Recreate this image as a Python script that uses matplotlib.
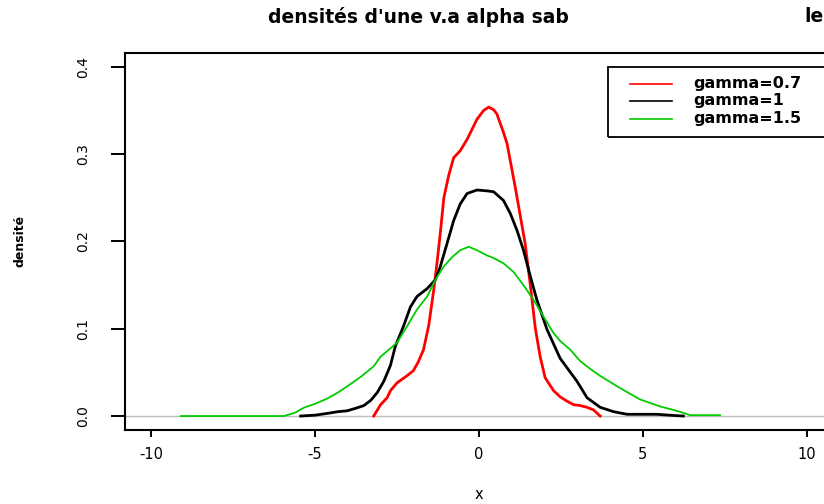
import matplotlib
matplotlib.use('Agg')
import matplotlib.pyplot as plt
from matplotlib.patches import Rectangle

plt.rcParams['axes.unicode_minus'] = False
plt.rcParams['font.family'] = ['DejaVu Sans']

# densities
x_g07 = [-3.21, -3.0, -2.8, -2.7, -2.5, -2.2, -2.0, -1.85, -1.69, -1.53, -1.38,
         -1.28, -1.18, -1.07, -0.92, -0.77, -0.57, -0.36, -0.06, 0.14, 0.30, 0.45,
         0.55, 0.75, 0.86, 0.96, 1.11, 1.26, 1.41, 1.57, 1.72, 1.87, 2.02, 2.28,
         2.48, 2.69, 2.89, 3.09, 3.3, 3.5, 3.70]
y_g07 = [0.0, 0.013, 0.021, 0.029, 0.038, 0.046, 0.052, 0.062, 0.076, 0.104, 0.144,
         0.175, 0.209, 0.250, 0.276, 0.296, 0.304, 0.317, 0.340, 0.350, 0.354, 0.351,
         0.346, 0.325, 0.312, 0.292, 0.262, 0.230, 0.198, 0.150, 0.101, 0.068, 0.044,
         0.029, 0.022, 0.017, 0.013, 0.012, 0.010, 0.007, 0.0]

x_g1 = [-5.44, -5.0, -4.63, -4.3, -4.02, -3.75, -3.51, -3.3, -3.1, -2.9, -2.7,
        -2.55, -2.3, -2.09, -1.89, -1.58, -1.33, -1.18, -0.97, -0.77, -0.57, -0.36,
        -0.06, 0.25, 0.45, 0.75, 0.96, 1.16, 1.36, 1.57, 1.77, 2.08, 2.48, 2.99,
        3.3, 3.7, 4.11, 4.52, 5.0, 5.43, 5.8, 6.24]
y_g1 = [0.0, 0.001, 0.003, 0.005, 0.006, 0.009, 0.012, 0.018, 0.027, 0.040, 0.058,
        0.080, 0.103, 0.125, 0.137, 0.146, 0.156, 0.171, 0.198, 0.224, 0.243, 0.255,
        0.259, 0.258, 0.257, 0.247, 0.232, 0.213, 0.190, 0.160, 0.133, 0.099, 0.066,
        0.040, 0.021, 0.010, 0.005, 0.002, 0.002, 0.002, 0.001, 0.0]

x_g15 = [-9.1, -7.0, -5.95, -5.6, -5.34, -5.0, -4.63, -4.3, -4.02, -3.6, -3.21,
         -3.0, -2.5, -2.19, -1.89, -1.58, -1.33, -1.08, -0.82, -0.57, -0.31, -0.06,
         0.25, 0.45, 0.75, 1.06, 1.36, 1.67, 1.97, 2.28, 2.48, 2.79, 3.09, 3.4, 3.7,
         4.31, 4.92, 5.53, 6.04, 6.45, 7.36]
y_g15 = [0.0, 0.0, 0.0, 0.004, 0.0096, 0.014, 0.020, 0.027, 0.034, 0.045, 0.057,
         0.068, 0.084, 0.103, 0.122, 0.137, 0.156, 0.171, 0.182, 0.190, 0.194, 0.190,
         0.184, 0.181, 0.175, 0.165, 0.150, 0.133, 0.114, 0.095, 0.086, 0.076, 0.063,
         0.054, 0.046, 0.032, 0.019, 0.011, 0.006, 0.001, 0.001]

labels = ['gamma=0.7', 'gamma=1', 'gamma=1.5']
colors = ['#ff0000', '#000000', '#00cc00']
widths = [2.0, 2.0, 1.3]
xticks = [-10, -5, 0, 5, 10]
yticks = [0.0, 0.1, 0.2, 0.3, 0.4]

fig = plt.figure(figsize=(8.24, 5.04), dpi=100)
# right side of the R device is cut off in the reference
ax = fig.add_axes([125 / 824, 1 - 430 / 504, 707.8 / 824, 377 / 504])

ax.axhline(0, color='#bebebe', lw=1, zorder=1)
series = [(x_g07, y_g07), (x_g1, y_g1), (x_g15, y_g15)]
for (xs, ys), c, w in zip(series, colors, widths):
    ax.plot(xs, ys, color=c, lw=w, zorder=2)

ax.set_xlim(-10.8, 10.8)
ax.set_ylim(-0.016, 0.416)
ax.set_xticks(xticks)
ax.set_xticklabels([str(t) for t in xticks], fontsize=10.5)
ax.set_yticks(yticks)
ax.set_yticklabels(['%.1f' % t for t in yticks], fontsize=10, rotation=90, va='center')
ax.tick_params(axis='x', length=5, width=1.4, pad=7)
ax.tick_params(axis='y', length=10, width=1.4, pad=15)
for s in ax.spines.values():
    s.set_linewidth(1.5)

ax.set_xlabel('x', fontsize=10.5, labelpad=18)
fig.text(20 / 824, 1 - 241 / 504, 'densité', rotation=90, fontsize=9,
         fontweight='bold', ha='center', va='center')

# title (as in the reference, with the gap)
fig.text(268 / 824, 1 - 17 / 504, "densités d'une v.a alpha sab", fontsize=13.5,
         fontweight='bold', ha='left', va='center')
fig.text(804 / 824, 1 - 17 / 504, 'le', fontsize=13.5, fontweight='bold',
         ha='left', va='center')

# legend box drawn the R way
ax.add_patch(Rectangle((0.6824, 0.777), 0.4, 0.963 - 0.777, transform=ax.transAxes,
                       fill=False, edgecolor='black', lw=1.3, clip_on=False, zorder=5))
rows = [0.918, 0.873, 0.825]
for yy, lab, c in zip(rows, labels, colors):
    ax.plot([0.7135, 0.7728], [yy, yy], color=c, lw=1.2, transform=ax.transAxes,
            clip_on=False, zorder=6)
    ax.text(0.8025, yy, lab, transform=ax.transAxes, fontsize=11.5, fontweight='bold',
            va='center', ha='left', zorder=6)

fig.savefig('out.png', dpi=100)
